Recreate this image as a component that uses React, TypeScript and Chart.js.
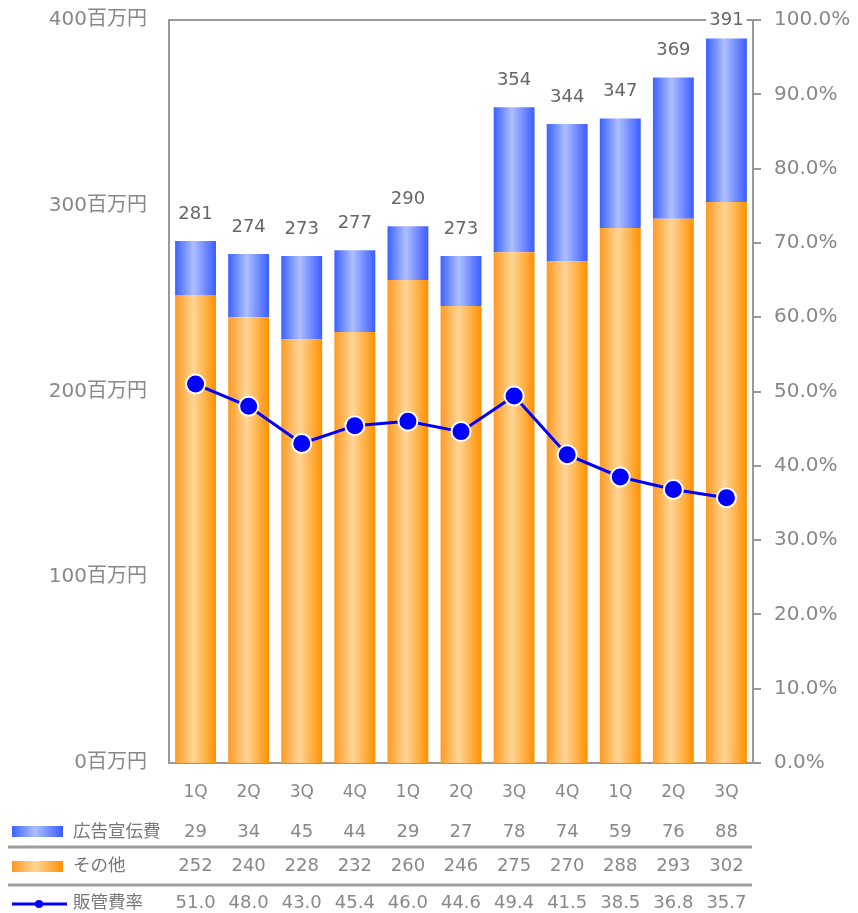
import React, { useEffect, useRef } from "react";
import { Chart, registerables } from "chart.js";

Chart.register(...registerables);

const categories = ["1Q", "2Q", "3Q", "4Q", "1Q", "2Q", "3Q", "4Q", "1Q", "2Q", "3Q"];
const adValues = [29, 34, 45, 44, 29, 27, 78, 74, 59, 76, 88];
const otherValues = [252, 240, 228, 232, 260, 246, 275, 270, 288, 293, 302];
const totalLabels = [281, 274, 273, 277, 290, 273, 354, 344, 347, 369, 391];
const ratioValues = [51.0, 48.0, 43.0, 45.4, 46.0, 44.6, 49.4, 41.5, 38.5, 36.8, 35.7];
const leftTicks = [0, 100, 200, 300, 400];
const seriesNames = ["広告宣伝費", "その他", "販管費率"];

const FONT = "'DejaVu Sans', 'Noto Sans CJK JP', sans-serif";
const CJK = "'Noto Sans CJK JP', sans-serif";
const BAR_PCT = 0.77;
const BLUE_STOPS: [number, string][] = [[0, "#3A62FF"], [0.45, "#AEBFFF"], [1, "#3A5CFF"]];
const ORANGE_STOPS: [number, string][] = [[0, "#FF9A22"], [0.45, "#FFD596"], [1, "#FF9000"]];

function makeGrad(c: CanvasRenderingContext2D, x0: number, x1: number, stops: [number, string][]) {
  const g = c.createLinearGradient(x0, 0, x1, 0);
  stops.forEach(([o, col]) => g.addColorStop(o, col));
  return g;
}

function barGrad(stops: [number, string][]) {
  return (ctx: any) => {
    const chart = ctx.chart;
    const xs = chart.scales && chart.scales.x;
    if (ctx.type !== "data" || !xs || !chart.chartArea) return stops[1][1];
    const cx = xs.getPixelForValue(ctx.dataIndex);
    const w = (xs.width / categories.length) * BAR_PCT;
    return makeGrad(chart.ctx, cx - w / 2, cx + w / 2, stops);
  };
}

const framePlugin = {
  id: "frame",
  beforeDatasetsDraw(chart: any) {
    const { ctx, chartArea: a } = chart;
    ctx.save();
    ctx.strokeStyle = "#999";
    ctx.lineWidth = 2;
    ctx.strokeRect(a.left, a.top, a.right - a.left, a.bottom - a.top);
    ctx.restore();
  },
};

const labelPlugin = {
  id: "totals",
  afterDatasetsDraw(chart: any) {
    const { ctx } = chart;
    const meta = chart.getDatasetMeta(2);
    ctx.save();
    ctx.font = `18px ${FONT}`;
    ctx.textAlign = "center";
    ctx.textBaseline = "middle";
    meta.data.forEach((el: any, i: number) => {
      const y = Math.max(el.y - 27, 20);
      const t = String(totalLabels[i]);
      const w = ctx.measureText(t).width;
      ctx.fillStyle = "#fff";
      ctx.fillRect(el.x - w / 2 - 3, y - 10, w + 6, 20);
      ctx.fillStyle = "#666";
      ctx.fillText(t, el.x, y);
    });
    ctx.restore();
  },
};

const tablePlugin = {
  id: "table",
  afterDraw(chart: any) {
    const { ctx } = chart;
    const xs = chart.scales.x;
    const rows: { y: number; vals: string[] }[] = [
      { y: 832, vals: adValues.map(String) },
      { y: 866, vals: otherValues.map(String) },
      { y: 903, vals: ratioValues.map((v) => v.toFixed(1)) },
    ];
    ctx.save();
    ctx.fillStyle = makeGrad(ctx, 12, 63, BLUE_STOPS);
    ctx.fillRect(12, 826, 51, 11);
    ctx.fillStyle = makeGrad(ctx, 12, 63, ORANGE_STOPS);
    ctx.fillRect(12, 861, 51, 11);
    ctx.strokeStyle = "#0000FF";
    ctx.lineWidth = 3;
    ctx.beginPath();
    ctx.moveTo(12, 904);
    ctx.lineTo(67, 904);
    ctx.stroke();
    ctx.fillStyle = "#0000FF";
    ctx.beginPath();
    ctx.arc(39, 904, 4, 0, Math.PI * 2);
    ctx.fill();
    ctx.strokeStyle = "#9e9e9e";
    ctx.lineWidth = 3;
    [847, 885].forEach((y) => {
      ctx.beginPath();
      ctx.moveTo(8, y);
      ctx.lineTo(752, y);
      ctx.stroke();
    });
    ctx.font = `17.5px ${CJK}`;
    ctx.textBaseline = "middle";
    ctx.textAlign = "left";
    ctx.fillStyle = "#777";
    rows.forEach((r, k) => ctx.fillText(seriesNames[k], 73, r.y - 2));
    ctx.font = `18px ${FONT}`;
    ctx.textAlign = "center";
    ctx.fillStyle = "#888";
    rows.forEach((r) => {
      r.vals.forEach((v, i) => ctx.fillText(v, xs.getPixelForValue(i), r.y));
    });
    ctx.restore();
  },
};

export default function App() {
  const ref = useRef<HTMLCanvasElement>(null);
  useEffect(() => {
    if (!ref.current) return;
    const chart = new Chart(ref.current, {
      type: "bar",
      data: {
        labels: categories,
        datasets: [
          {
            type: "line",
            label: seriesNames[2],
            data: ratioValues,
            yAxisID: "y1",
            borderColor: "#0000FF",
            borderWidth: 3,
            backgroundColor: "#0000FF",
            pointRadius: 9.5,
            pointBorderWidth: 2,
            pointBorderColor: "#fff",
            pointBackgroundColor: "#0000FF",
            order: 0,
          } as any,
          {
            type: "bar",
            label: seriesNames[1],
            data: otherValues,
            yAxisID: "y",
            backgroundColor: barGrad(ORANGE_STOPS),
            barPercentage: BAR_PCT,
            categoryPercentage: 1,
            stack: "s",
            order: 1,
          },
          {
            type: "bar",
            label: seriesNames[0],
            data: adValues,
            yAxisID: "y",
            backgroundColor: barGrad(BLUE_STOPS),
            barPercentage: BAR_PCT,
            categoryPercentage: 1,
            stack: "s",
            order: 2,
          },
        ],
      },
      options: {
        responsive: false,
        animation: false,
        layout: { autoPadding: false, padding: { top: 20, bottom: 110, left: 0, right: 0 } },
        plugins: { legend: { display: false }, tooltip: { enabled: false } },
        scales: {
          x: {
            stacked: true,
            grid: { display: false },
            border: { display: false },
            ticks: { color: "#888", font: { family: FONT, size: 17 }, padding: 11 },
            afterFit: (s: any) => {
              s.height = 40;
              s.paddingLeft = 0;
              s.paddingRight = 0;
            },
          },
          y: {
            position: "left",
            stacked: true,
            min: 0,
            max: 400,
            afterBuildTicks: (s: any) => {
              s.ticks = leftTicks.map((v) => ({ value: v }));
            },
            grid: { display: false, drawTicks: false },
            border: { display: false },
            ticks: {
              color: "#888",
              font: { family: FONT, size: 20 },
              padding: 22,
              callback: (v: any) => `${v}百万円`,
            },
            afterFit: (s: any) => {
              s.width = 169;
              s.paddingTop = 0;
              s.paddingBottom = 0;
            },
          },
          y1: {
            position: "right",
            min: 0,
            max: 100,
            grid: { drawOnChartArea: false, drawTicks: true, tickLength: 8, color: "#999", lineWidth: 2 },
            border: { display: false },
            ticks: {
              stepSize: 10,
              color: "#888",
              font: { family: FONT, size: 20 },
              padding: 13,
              callback: (v: any) => `${Number(v).toFixed(1)}%`,
            },
            afterFit: (s: any) => {
              s.width = 105;
              s.paddingTop = 0;
              s.paddingBottom = 0;
            },
          },
        },
      },
      plugins: [framePlugin, labelPlugin, tablePlugin],
    });
    return () => chart.destroy();
  }, []);
  return (
    <div style={{ position: "fixed", left: 0, top: 0, width: 858, height: 913, background: "#fff" }}>
      <canvas ref={ref} width={858} height={913} />
    </div>
  );
}
